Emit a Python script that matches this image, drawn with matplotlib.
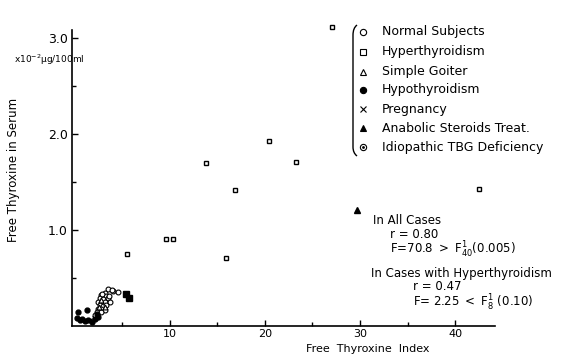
import matplotlib
matplotlib.use("Agg")
import matplotlib.pyplot as plt
from matplotlib.lines import Line2D
from matplotlib.path import Path
from matplotlib.patches import PathPatch

plt.rcParams['font.family'] = ['DejaVu Sans']
plt.rcParams['mathtext.default'] = 'regular'

# ---- data (Free Thyroxine Index, Free Thyroxine in Serum x10^-2 ug/100ml) ----
normal_x = [3.5, 4.0, 4.5, 3.16, 2.8, 3.3, 2.6, 3.0, 3.5, 2.45, 2.8, 3.16, 3.7, 2.6, 3.0, 3.3,
            2.45, 2.8, 3.16, 2.3, 2.75, 2.1, 3.6, 3.9, 2.9]
normal_y = [0.39, 0.36, 0.35, 0.34, 0.32, 0.31, 0.29, 0.28, 0.29, 0.25, 0.24, 0.25, 0.25, 0.22, 0.21, 0.22,
            0.18, 0.18, 0.17, 0.15, 0.15, 0.11, 0.31, 0.37, 0.33]
hyper_x = [27.0, 20.4, 13.8, 23.3, 16.9, 9.6, 10.3, 15.9, 42.5, 5.5]
hyper_y = [3.11, 1.92, 1.70, 1.71, 1.41, 0.91, 0.91, 0.71, 1.43, 0.75]
goiter_x = [2.7, 3.2, 2.5]
goiter_y = [0.27, 0.20, 0.20]
hypo_x = [0.2, 0.5, 0.8, 1.1, 1.4, 1.8, 2.1, 2.4, 0.3, 2.3, 1.3]
hypo_y = [0.08, 0.06, 0.07, 0.05, 0.06, 0.04, 0.07, 0.09, 0.15, 0.12, 0.17]
preg_x = [1.6, 2.0]
preg_y = [0.06, 0.08]
anabolic_x = [29.7]
anabolic_y = [1.21]
tbg_x = [5.4, 5.7]
tbg_y = [0.33, 0.29]

legend_labels = ["Normal Subjects", "Hyperthyroidism", "Simple Goiter", "Hypothyroidism",
                 "Pregnancy", "Anabolic Steroids Treat.", "Idiopathic TBG Deficiency"]
x_ticks = [10, 20, 30, 40]
y_ticks = [1.0, 2.0, 3.0]
y_tick_labels = ["1.0", "2.0", "3.0"]

W, H = 564, 354
fig = plt.figure(figsize=(W / 100, H / 100), dpi=100)
ax = fig.add_axes([72 / W, (H - 326) / H, 423 / W, 296 / H])

ms = 3.5
kw = dict(ls='none', clip_on=False)
ax.plot(normal_x, normal_y, 'o', mfc='white', mec='black', ms=ms, mew=0.8, **kw)
ax.plot(hyper_x, hyper_y, 's', mfc='white', mec='black', ms=ms, mew=1.0, **kw)
ax.plot(goiter_x, goiter_y, '^', mfc='white', mec='black', ms=ms, mew=0.8, **kw)
ax.plot(hypo_x, hypo_y, 'o', mfc='black', mec='black', ms=ms, **kw)
ax.plot(preg_x, preg_y, 'x', color='black', ms=ms, mew=0.8, **kw)
ax.plot(anabolic_x, anabolic_y, '^', mfc='black', mec='black', ms=4.5, **kw)
ax.plot(tbg_x, tbg_y, 's', mfc='black', mec='black', ms=4, **kw)

ax.set_xlim(-0.3, 44.2)
ax.set_ylim(0, 3.08)
for s in ['top', 'right']:
    ax.spines[s].set_visible(False)
for s in ['left', 'bottom']:
    ax.spines[s].set_linewidth(1.2)
ax.set_xticks(x_ticks)
ax.set_xticks([5, 15, 25, 35], minor=True)
ax.set_yticks(y_ticks)
ax.set_yticklabels(y_tick_labels)
ax.set_yticks([0.5, 1.5, 2.5], minor=True)
ax.tick_params(direction='in', length=4, width=1, labelsize=9, pad=3)
ax.tick_params(axis='x', labelsize=8, pad=2)
ax.tick_params(which='minor', direction='in', length=3, width=1)

# axis labels
fig.text(14 / W, 1 - 170 / H, "Free Thyroxine in Serum", rotation=90, ha='center', va='center', fontsize=8.5)
fig.text(14 / W, 1 - 60 / H, r"x10$^{-2}$$\mu$g/100ml", ha='left', va='center', fontsize=6.5)
fig.text(368 / W, 1 - 349 / H, "Free  Thyroxine  Index", ha='center', va='center', fontsize=8)

# legend block
markers = [dict(marker='o', mfc='white', mec='black'),
           dict(marker='s', mfc='white', mec='black'),
           dict(marker='^', mfc='white', mec='black'),
           dict(marker='o', mfc='black', mec='black'),
           dict(marker='x', color='black'),
           dict(marker='^', mfc='black', mec='black'),
           dict(marker='o', mfc='white', mec='black')]
rows_y = [32, 52, 72, 90, 109, 128, 147]
for lab, mk, yy in zip(legend_labels, markers, rows_y):
    fy = 1 - yy / H
    fig.add_artist(Line2D([363 / W], [fy], ls='none', ms=4.5, mew=0.8, transform=fig.transFigure, **mk))
    fig.text(382 / W, fy, lab, ha='left', va='center', fontsize=9)
fig.add_artist(Line2D([363 / W], [1 - 147 / H], marker='.', ls='none', color='black', ms=2,
                      transform=fig.transFigure))
# bracket
pts = [(357, 25), (353, 28), (353, 35), (353, 147), (353, 153), (357, 156)]
codes = [Path.MOVETO, Path.CURVE3, Path.CURVE3, Path.LINETO, Path.CURVE3, Path.CURVE3]
verts = [(x / W, 1 - y / H) for x, y in pts]
fig.add_artist(PathPatch(Path(verts, codes), fill=False, lw=1.0, ec='black', transform=fig.transFigure))

# statistics
stats = [(373, 220, "In All Cases"),
         (390, 234, "r = 0.80"),
         (390, 250, r"F=70.8 $>$ F$^{1}_{40}$(0.005)"),
         (371, 274, "In Cases with Hyperthyroidism"),
         (413, 287, "r = 0.47"),
         (413, 303, r"F= 2.25 $<$ F$^{1}_{8}$ (0.10)")]
for x, y, t in stats:
    fig.text(x / W, 1 - y / H, t, ha='left', va='center', fontsize=8.5)

fig.savefig("out.png", dpi=100, facecolor='white')
